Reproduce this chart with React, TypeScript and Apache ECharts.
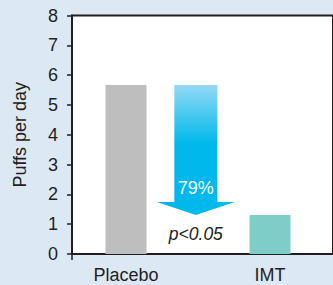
import React, { useEffect, useRef } from "react";
import * as echarts from "echarts";

const categories = ["Placebo", "IMT"];
const categoryPositions = [1, 3];
const puffsPerDay = [5.67, 1.31];
const barColors = ["#bebebf", "#7ecdc8"];
const arrowPosition = 1.97;
const reductionLabel = "79%";
const pValueLabel = "p<0.05";
const yAxisName = "Puffs per day";

const TEXT = "#231f20";
const FONT = "'Liberation Sans', Arial, sans-serif";

export default function App() {
  const ref = useRef<HTMLDivElement>(null);
  useEffect(() => {
    if (!ref.current) return;
    const chart = echarts.init(ref.current, undefined, { renderer: "svg" });
    const labelFor = (v: number) => {
      const i = categoryPositions.indexOf(v);
      return i >= 0 ? categories[i] : "";
    };
    chart.setOption({
      animation: false,
      backgroundColor: "#dde8f5",
      textStyle: { fontFamily: FONT },
      grid: {
        left: 72,
        right: -6,
        top: 15.5,
        bottom: 31,
        show: true,
        backgroundColor: "#ffffff",
        borderColor: TEXT,
        borderWidth: 2,
      },
      xAxis: {
        type: "value",
        min: 0.25,
        max: 3.875,
        splitLine: { show: false },
        axisLine: { show: true, lineStyle: { color: TEXT, width: 2 } },
        axisTick: {
          show: true,
          customValues: [0.25],
          length: 6,
          lineStyle: { color: TEXT, width: 1.5 },
        },
        axisLabel: {
          show: true,
          customValues: categoryPositions,
          formatter: (v: number) => labelFor(v),
          color: TEXT,
          fontSize: 18,
          margin: 12,
          fontFamily: FONT,
        },
      },
      yAxis: {
        type: "value",
        min: 0,
        max: 8,
        interval: 1,
        name: yAxisName,
        nameLocation: "middle",
        nameGap: 43,
        nameTextStyle: { color: TEXT, fontSize: 18, fontFamily: FONT },
        splitLine: { show: false },
        axisLine: { show: true, lineStyle: { color: TEXT, width: 2 } },
        axisTick: { show: true, length: 5, lineStyle: { color: TEXT, width: 1.5 } },
        axisLabel: { color: TEXT, fontSize: 18, margin: 14, fontFamily: FONT },
      },
      series: [
        {
          type: "bar",
          barWidth: 41,
          data: categoryPositions.map((x, i) => ({
            value: [x, puffsPerDay[i]],
            itemStyle: { color: barColors[i] },
          })),
        },
        {
          type: "custom",
          clip: false,
          data: [[arrowPosition, puffsPerDay[0], puffsPerDay[1]]],
          renderItem: (params: any, api: any) => {
            const x = api.value(0);
            const top = api.coord([x, api.value(1)]);
            const tip = api.coord([x, api.value(2)]);
            const cx = top[0];
            const half = 21.5;
            const headHalf = 39;
            const headH = 13;
            const neck = tip[1] - headH;
            return {
              type: "group",
              children: [
                {
                  type: "polygon",
                  shape: {
                    points: [
                      [cx - half, top[1]],
                      [cx + half, top[1]],
                      [cx + half, neck],
                      [cx + headHalf, neck],
                      [cx, tip[1]],
                      [cx - headHalf, neck],
                      [cx - half, neck],
                    ],
                  },
                  style: {
                    fill: new echarts.graphic.LinearGradient(0, 0, 0, 1, [
                      { offset: 0, color: "#94d9f6" },
                      { offset: 0.45, color: "#00b8eb" },
                      { offset: 1, color: "#00b8eb" },
                    ]),
                  },
                },
                {
                  type: "text",
                  style: {
                    x: cx,
                    y: neck - 14,
                    text: reductionLabel,
                    fill: "#ffffff",
                    fontSize: 18,
                    fontFamily: FONT,
                    align: "center",
                    verticalAlign: "middle",
                  },
                },
                {
                  type: "text",
                  style: {
                    x: cx,
                    y: tip[1] + 19,
                    text: pValueLabel,
                    fill: TEXT,
                    fontSize: 17.5,
                    fontStyle: "italic",
                    fontFamily: FONT,
                    align: "center",
                    verticalAlign: "middle",
                  },
                },
              ],
            };
          },
        },
      ],
    });
    return () => chart.dispose();
  }, []);
  return (
    <div
      ref={ref}
      style={{ position: "fixed", left: 0, top: 0, width: 333, height: 285 }}
    />
  );
}
